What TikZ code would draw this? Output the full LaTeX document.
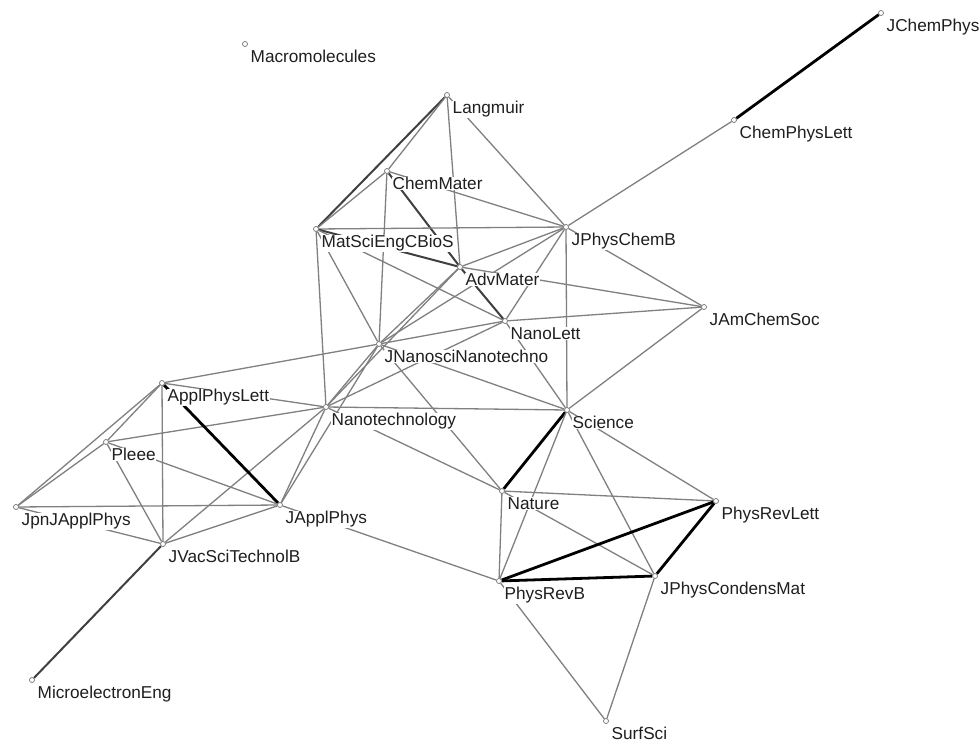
\documentclass[tikz,border=0pt]{standalone}
\usepackage{fontspec}
\setmainfont{Liberation Sans}
\usetikzlibrary{backgrounds}
\newcommand\jn[4]{\node[vtx] (#1) at (#2,#3) {}; \node[lbl] (#1l) at (#2+5,#3+18.5) {#4};}
\begin{document}
\begin{tikzpicture}[x=1bp,y=-1bp,
 vtx/.style={circle,draw=black!55,fill=white,line width=0.7bp,minimum size=5bp,inner sep=0},
 lbl/.style={anchor=base west,inner sep=0.5bp,fill=white,text=black!88,font=\fontsize{17.2bp}{20bp}\selectfont},
 weak/.style={draw=black!50,line width=1.3bp},
 mid/.style={draw=black!75,line width=2bp},
 strong/.style={draw=black,line width=2.8bp}]
\useasboundingbox (0,0) rectangle (980,745);
\jn{mac}{245}{44}{Macromolecules}
\jn{jcp}{881}{13}{JChemPhys}
\jn{cpl}{734}{120}{ChemPhysLett}
\jn{lang}{447}{95}{Langmuir}
\jn{cm}{387}{171}{ChemMater}
\jn{mse}{316}{229}{MatSciEngCBioS}
\jn{jpcb}{566}{227}{JPhysChemB}
\jn{adv}{460}{267}{AdvMater}
\jn{nl}{505}{321}{NanoLett}
\jn{jacs}{704}{307}{JAmChemSoc}
\jn{jnn}{379}{344}{JNanosciNanotechno}
\jn{apl}{162}{383}{ApplPhysLett}
\jn{nano}{326}{407}{Nanotechnology}
\jn{sci}{567}{410}{Science}
\jn{pie}{106}{442}{Pleee}
\jn{jjap}{16}{507}{JpnJApplPhys}
\jn{jap}{280}{505}{JApplPhys}
\jn{jvst}{163}{544}{JVacSciTechnolB}
\jn{nat}{502}{491}{Nature}
\jn{prl}{716}{501}{PhysRevLett}
\jn{prb}{499}{581}{PhysRevB}
\jn{jpcm}{655}{576}{JPhysCondensMat}
\jn{ss}{606}{721}{SurfSci}
\jn{mee}{32}{680}{MicroelectronEng}
\begin{pgfonlayer}{background}
\fill[white] (0,0) rectangle (980,745);
\draw[strong] (jcp) -- (cpl);
\draw[weak] (cpl) -- (jpcb);
\draw[mid] (lang) -- (mse);
\draw[weak] (lang) -- (cm);
\draw[weak] (cm) -- (mse);
\draw[weak] (lang) -- (adv);
\draw[weak] (lang) -- (jpcb);
\draw[weak] (cm) -- (jpcb);
\draw[mid] (cm) -- (adv);
\draw[weak] (cm) -- (jnn);
\draw[weak] (mse) -- (jpcb);
\draw[mid] (mse) -- (adv);
\draw[weak] (mse) -- (nl);
\draw[weak] (mse) -- (jnn);
\draw[weak] (mse) -- (nano);
\draw[weak] (adv) -- (jpcb);
\draw[mid] (adv) -- (nl);
\draw[weak] (adv) -- (jacs);
\draw[weak] (adv) -- (jnn);
\draw[weak] (adv) -- (nano);
\draw[weak] (jpcb) -- (nl);
\draw[weak] (jpcb) -- (jnn);
\draw[weak] (jpcb) -- (jacs);
\draw[weak] (jpcb) -- (sci);
\draw[weak] (nl) -- (jacs);
\draw[weak] (nl) -- (jnn);
\draw[weak] (nl) -- (nano);
\draw[weak] (nl) -- (sci);
\draw[weak] (jacs) -- (sci);
\draw[weak] (jnn) -- (apl);
\draw[weak] (jnn) -- (nano);
\draw[weak] (jnn) -- (sci);
\draw[weak] (jnn) -- (nat);
\draw[weak] (jnn) -- (jap);
\draw[weak] (nano) -- (sci);
\draw[weak] (nano) -- (nat);
\draw[weak] (nano) -- (apl);
\draw[weak] (nano) -- (pie);
\draw[weak] (nano) -- (jvst);
\draw[weak] (nano) -- (jap);
\draw[strong] (apl) -- (jap);
\draw[weak] (apl) -- (pie);
\draw[weak] (apl) -- (jjap);
\draw[weak] (apl) -- (jvst);
\draw[weak] (pie) -- (jjap);
\draw[weak] (pie) -- (jap);
\draw[weak] (pie) -- (jvst);
\draw[weak] (jjap) -- (jap);
\draw[weak] (jjap) -- (jvst);
\draw[weak] (jvst) -- (jap);
\draw[mid] (jvst) -- (mee);
\draw[weak] (jap) -- (prb);
\draw[strong] (sci) -- (nat);
\draw[weak] (sci) -- (prb);
\draw[weak] (sci) -- (jpcm);
\draw[weak] (sci) -- (prl);
\draw[weak] (nat) -- (prl);
\draw[weak] (nat) -- (prb);
\draw[weak] (nat) -- (jpcm);
\draw[strong] (prb) -- (prl);
\draw[strong] (prb) -- (jpcm);
\draw[strong] (jpcm) -- (prl);
\draw[weak] (prb) -- (ss);
\draw[weak] (jpcm) -- (ss);
\end{pgfonlayer}
\end{tikzpicture}
\end{document}
